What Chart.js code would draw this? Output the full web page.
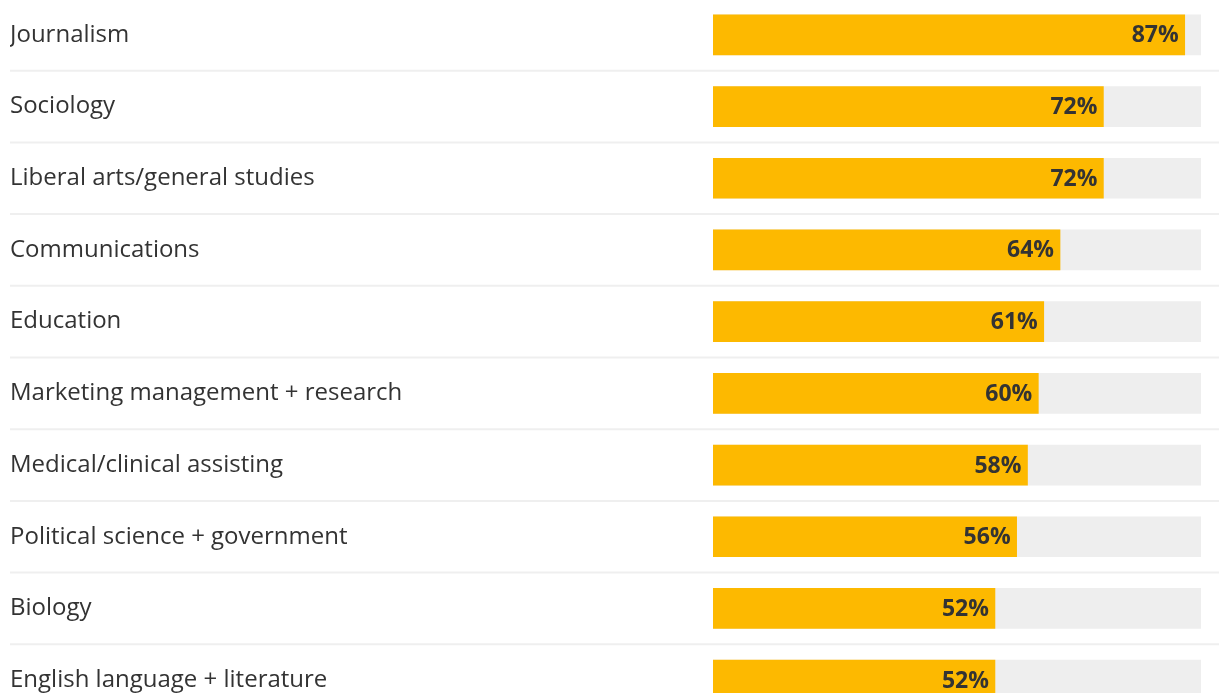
<!DOCTYPE html>
<html>
<head>
<meta charset="utf-8">
<script src="https://cdn.jsdelivr.net/npm/chart.js@4.4.1/dist/chart.umd.min.js"></script>
<style>
  html, body { margin: 0; padding: 0; background: #fff; overflow: hidden; }
  #wrap { width: 1219px; height: 717px; margin-top: -1.5px; position: relative; }
</style>
</head>
<body>
<div id="wrap"><canvas id="majorChart"></canvas></div>
<script>
const categories = [
  "Journalism",
  "Sociology",
  "Liberal arts/general studies",
  "Communications",
  "Education",
  "Marketing management + research",
  "Medical/clinical assisting",
  "Political science + government",
  "Biology",
  "English language + literature",
];
const values = [87, 72, 72, 64, 61, 60, 58, 56, 52, 52]; // percent
const trackValues = [90, 90, 90, 90, 90, 90, 90, 90, 90, 90]; // grey background track
const axisMax = 90;

// row separators spanning the full width
const separators = {
  id: "separators",
  beforeDatasetsDraw(chart) {
    const { ctx } = chart;
    const y = chart.scales.y;
    ctx.save();
    ctx.strokeStyle = "#efefef";
    ctx.lineWidth = 2;
    for (let i = 1; i < categories.length; i++) {
      const py = (y.getPixelForValue(i - 1) + y.getPixelForValue(i)) / 2;
      ctx.beginPath();
      ctx.moveTo(10, py);
      ctx.lineTo(chart.width, py);
      ctx.stroke();
    }
    ctx.restore();
  },
};

// percent labels at the end of each bar
const valueLabels = {
  id: "valueLabels",
  afterDatasetsDraw(chart) {
    const { ctx } = chart;
    const meta = chart.getDatasetMeta(0);
    ctx.save();
    ctx.font = "bold 23px 'Open Sans', sans-serif";
    ctx.fillStyle = "#333333";
    ctx.textAlign = "right";
    ctx.textBaseline = "middle";
    meta.data.forEach((bar, i) => {
      ctx.fillText(values[i] + "%", bar.x - 6, bar.y + 1);
    });
    ctx.restore();
  },
};

new Chart(document.getElementById("majorChart").getContext("2d"), {
  type: "bar",
  data: {
    labels: categories,
    datasets: [
      {
        data: values,
        backgroundColor: "#fdb900",
        barThickness: 40,
        grouped: false,
      },
      {
        data: trackValues,
        backgroundColor: "#eeeeee",
        barThickness: 40,
        grouped: false,
      },
    ],
  },
  options: {
    indexAxis: "y",
    responsive: true,
    maintainAspectRatio: false,
    animation: false,
    layout: { padding: { left: 10, right: 18, top: 0, bottom: 0 } },
    plugins: {
      legend: { display: false },
      tooltip: { enabled: false },
    },
    scales: {
      x: {
        display: false,
        min: 0,
        max: axisMax,
      },
      y: {
        grid: { display: false },
        border: { display: false },
        afterFit(scale) {
          scale.width = 703; // bars start at x = 713
          scale.paddingTop = 0;
          scale.paddingBottom = 0;
        },
        ticks: {
          crossAlign: "far",
          color: "#333333",
          padding: 0,
          font: { family: "'Open Sans', sans-serif", size: 24 },
        },
      },
    },
  },
  plugins: [separators, valueLabels],
});
</script>
</body>
</html>
